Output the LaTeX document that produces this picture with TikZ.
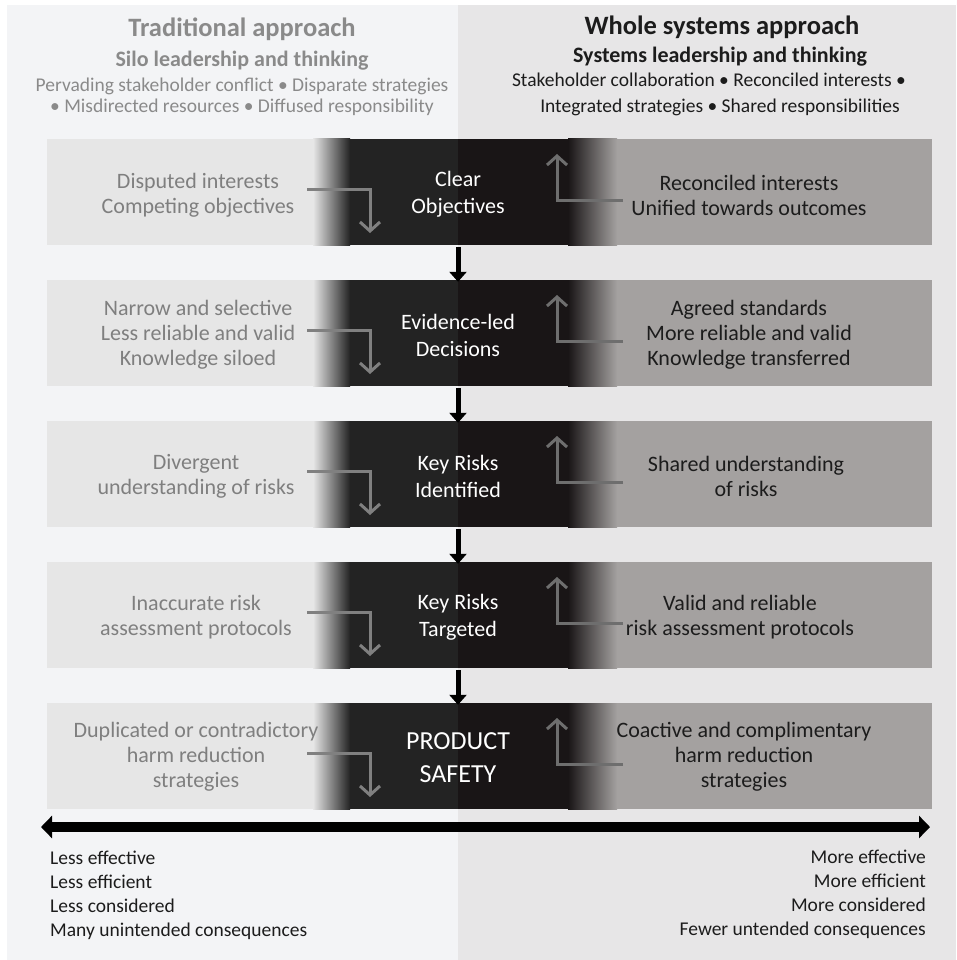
\documentclass[tikz,border=0pt]{standalone}
\usepackage{fontspec}
\setmainfont{Carlito}
\usetikzlibrary{arrows.meta}
\definecolor{bgL}{HTML}{F3F4F6}
\definecolor{bgR}{HTML}{E7E6E7}
\definecolor{boxL}{HTML}{E6E6E6}
\definecolor{darkL}{HTML}{232323}
\definecolor{darkR}{HTML}{191516}
\definecolor{boxR}{HTML}{A4A1A0}
\definecolor{textL}{HTML}{7F7F7F}
\definecolor{headL}{HTML}{8A8A8A}
\definecolor{textR}{HTML}{1C1C1C}
\definecolor{arrL}{HTML}{808080}
\definecolor{arrR}{HTML}{6E6E6E}
\tikzset{
  ltext/.style={align=center, text=textL, font=\fontsize{22}{25}\selectfont, inner sep=0pt},
  rtext/.style={align=center, text=textR, font=\fontsize{22}{25}\selectfont, inner sep=0pt},
  ctext/.style={align=center, text=white, font=\fontsize{22}{27}\selectfont, inner sep=0pt, minimum width=216pt, minimum height=106pt},
  ptext/.style={align=center, text=white, font=\fontsize{26}{33}\selectfont, inner sep=0pt, minimum width=216pt, minimum height=106pt},
  hbig/.style={anchor=base, font=\fontsize{26.5}{30}\selectfont\bfseries, inner sep=0pt},
  hmid/.style={anchor=base, font=\fontsize{22}{26}\selectfont\bfseries, inner sep=0pt},
  hsmall/.style={anchor=base, font=\fontsize{19.5}{24}\selectfont, inner sep=0pt},
  btext/.style={font=\fontsize{19.5}{24}\selectfont, text=textR, inner sep=0pt},
  grayarrL/.style={draw=arrL, line width=3pt, -{Straight Barb[length=9pt,width=20pt]}},
  grayarrR/.style={draw=arrR, line width=3pt, -{Straight Barb[length=9pt,width=20pt]}},
  blkarr/.style={draw=black, line width=5pt, -{Triangle[length=10pt,width=17pt]}},
  bigarr/.style={draw=black, line width=10pt, {Triangle[length=11pt,width=22pt]}-{Triangle[length=11pt,width=22pt]}}
}
\begin{document}
\begin{tikzpicture}[x=1pt,y=-1pt]
\useasboundingbox (0,0) rectangle (956,960);
\fill[white] (0,0) rectangle (956,960);
\fill[bgL] (7,5) rectangle (458,960);
\fill[bgR] (458,5) rectangle (956,960);

% header left
\node[hbig, text=headL] (hl1) at (242,37) {Traditional approach};
\node[hmid, text=headL] (hl2) at (242,67) {Silo leadership and thinking};
\node[hsmall, text=headL] (hl3) at (242,92) {Pervading stakeholder conflict • Disparate strategies};
\node[hsmall, text=headL] (hl4) at (242,113) {• Misdirected resources • Diffused responsibility};
% header right
\node[hbig, text=textR] (hr1) at (722,35) {Whole systems approach};
\node[hmid, text=textR] (hr2) at (720,63) {Systems leadership and thinking};
\node[hsmall, text=textR] (hr3) at (709,87) {Stakeholder collaboration • Reconciled interests •};
\node[hsmall, text=textR] (hr4) at (720,113) {Integrated strategies • Shared responsibilities};

% row backgrounds
\foreach \t in {139,280,421,562,703} {
  \fill[boxL] (47,\t) rectangle (314,\t+106);
  \shade[left color=boxL, right color=darkL] (313,\t) rectangle (350,\t+106);
  \fill[darkL] (349.5,\t) rectangle (458,\t+106);
  \fill[darkR] (458,\t) rectangle (568.5,\t+106);
  \shade[left color=darkR, right color=boxR] (568,\t) rectangle (617,\t+106);
  \fill[boxR] (616.5,\t) rectangle (932,\t+106);
}

% center nodes
\node[ctext] (c1) at (458,194) {Clear\\Objectives};
\node[ctext] (c2) at (458,335) {Evidence-led\\Decisions};
\node[ctext] (c3) at (458,476) {Key Risks\\Identified};
\node[ctext] (c4) at (458,617) {Key Risks\\Targeted};
\node[ptext] (c5) at (458,758) {PRODUCT\\SAFETY};

% left texts
\node[ltext] (l1) at (198,195) {Disputed interests\\Competing objectives};
\node[ltext] (l2) at (198,335) {Narrow and selective\\Less reliable and valid\\Knowledge siloed};
\node[ltext] (l3) at (196,476) {Divergent\\understanding of risks};
\node[ltext] (l4) at (196,617) {Inaccurate risk\\assessment protocols};
\node[ltext] (l5) at (196,757) {Duplicated or contradictory\\harm reduction\\strategies};
% right texts
\node[rtext] (r1) at (749,195) {Reconciled interests\\Unified towards outcomes};
\node[rtext] (r2) at (749,335) {Agreed standards\\More reliable and valid\\Knowledge transferred};
\node[rtext] (r3) at (746,476) {Shared understanding\\of risks};
\node[rtext] (r4) at (740,617) {Valid and reliable\\risk assessment protocols};
\node[rtext] (r5) at (744,757) {Coactive and complimentary\\harm reduction\\strategies};

% gray L arrows
\foreach \t [count=\i] in {139,280,421,562,703} {
  \coordinate (ls\i) at (307,\t+50);
  \coordinate (lc\i) at (370,\t+50);
  \coordinate (le\i) at (370,\t+94);
  \draw[grayarrL] (ls\i) -- (lc\i) -- (le\i);
  \coordinate (rs\i) at (623,\t+61);
  \coordinate (rc\i) at (557,\t+61);
  \coordinate (re\i) at (557,\t+15);
  \draw[grayarrR] (rs\i) -- (rc\i) -- (re\i);
}

% black arrows between rows
\draw[blkarr] (c1.south) -- (c2.north);
\draw[blkarr] (c2.south) -- (c3.north);
\draw[blkarr] (c3.south) -- (c4.north);
\draw[blkarr] (c4.south) -- (c5.north);

% bottom double arrow
\coordinate (bl) at (41,827);
\coordinate (br) at (930,827);
\draw[bigarr] (bl) -- (br);

% bottom texts
\node[btext, anchor=base west] (b1) at (50,864) {Less effective};
\node[btext, anchor=base west] (b2) at (50,888) {Less efficient};
\node[btext, anchor=base west] (b3) at (50,912) {Less considered};
\node[btext, anchor=base west] (b4) at (50,936) {Many unintended consequences};
\node[btext, anchor=base east] (b5) at (926,863) {More effective};
\node[btext, anchor=base east] (b6) at (926,887) {More efficient};
\node[btext, anchor=base east] (b7) at (926,911) {More considered};
\node[btext, anchor=base east] (b8) at (926,935) {Fewer untended consequences};
\end{tikzpicture}
\end{document}
